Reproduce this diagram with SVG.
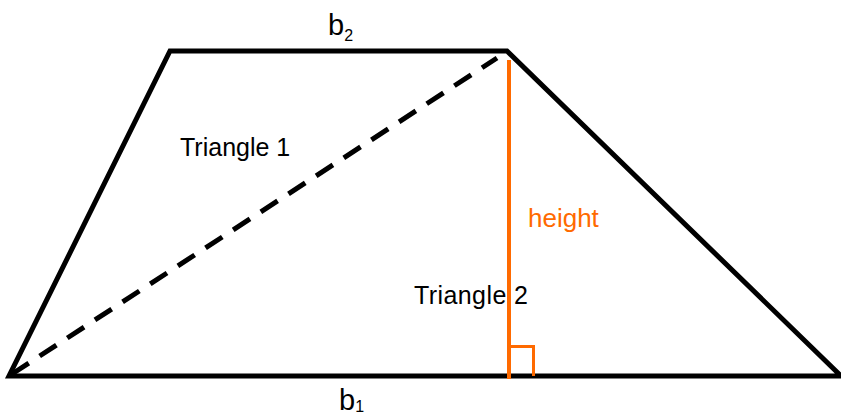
<svg xmlns="http://www.w3.org/2000/svg" width="841" height="419" viewBox="0 0 841 419">
<style>
.edge{stroke:#000;stroke-width:5;fill:none;stroke-linejoin:miter}
.dash{stroke:#000;stroke-width:5;fill:none;stroke-dasharray:20 13}
.hgt{stroke:#ff6a00;stroke-width:4;fill:none}
.lbl{font-family:"Liberation Sans",Arial,sans-serif;font-size:25px;fill:#000}
.big{font-family:"Liberation Sans",Arial,sans-serif;font-size:29px;fill:#000}
.org{fill:#ff6a00;font-size:26px}
</style>
<rect width="841" height="419" fill="#fff"/>
<g id="trapezoid">
<polygon class="edge" points="170,51 507,51 841,376 9,376"/>
</g>
<g id="connectors">
<line class="dash" x1="12" y1="374" x2="497" y2="58"/>
<line class="hgt" x1="509" y1="60" x2="509" y2="379"/>
<polyline class="hgt" points="509,346.5 533.5,346.5 533.5,376" style="stroke-width:3"/>
</g>
<g id="label-b2"><text class="big" x="328" y="35">b<tspan font-size="16" dy="5.5">2</tspan></text></g>
<g id="label-b1"><text class="big" x="339" y="410">b<tspan font-size="16" dy="1.5">1</tspan></text></g>
<g id="label-tri1"><text class="lbl" x="180" y="156">Triangle 1</text></g>
<g id="label-tri2"><text class="lbl" x="414" y="304" textLength="114">Triangle 2</text></g>
<g id="label-height"><text class="lbl org" x="528" y="227">height</text></g>
</svg>
